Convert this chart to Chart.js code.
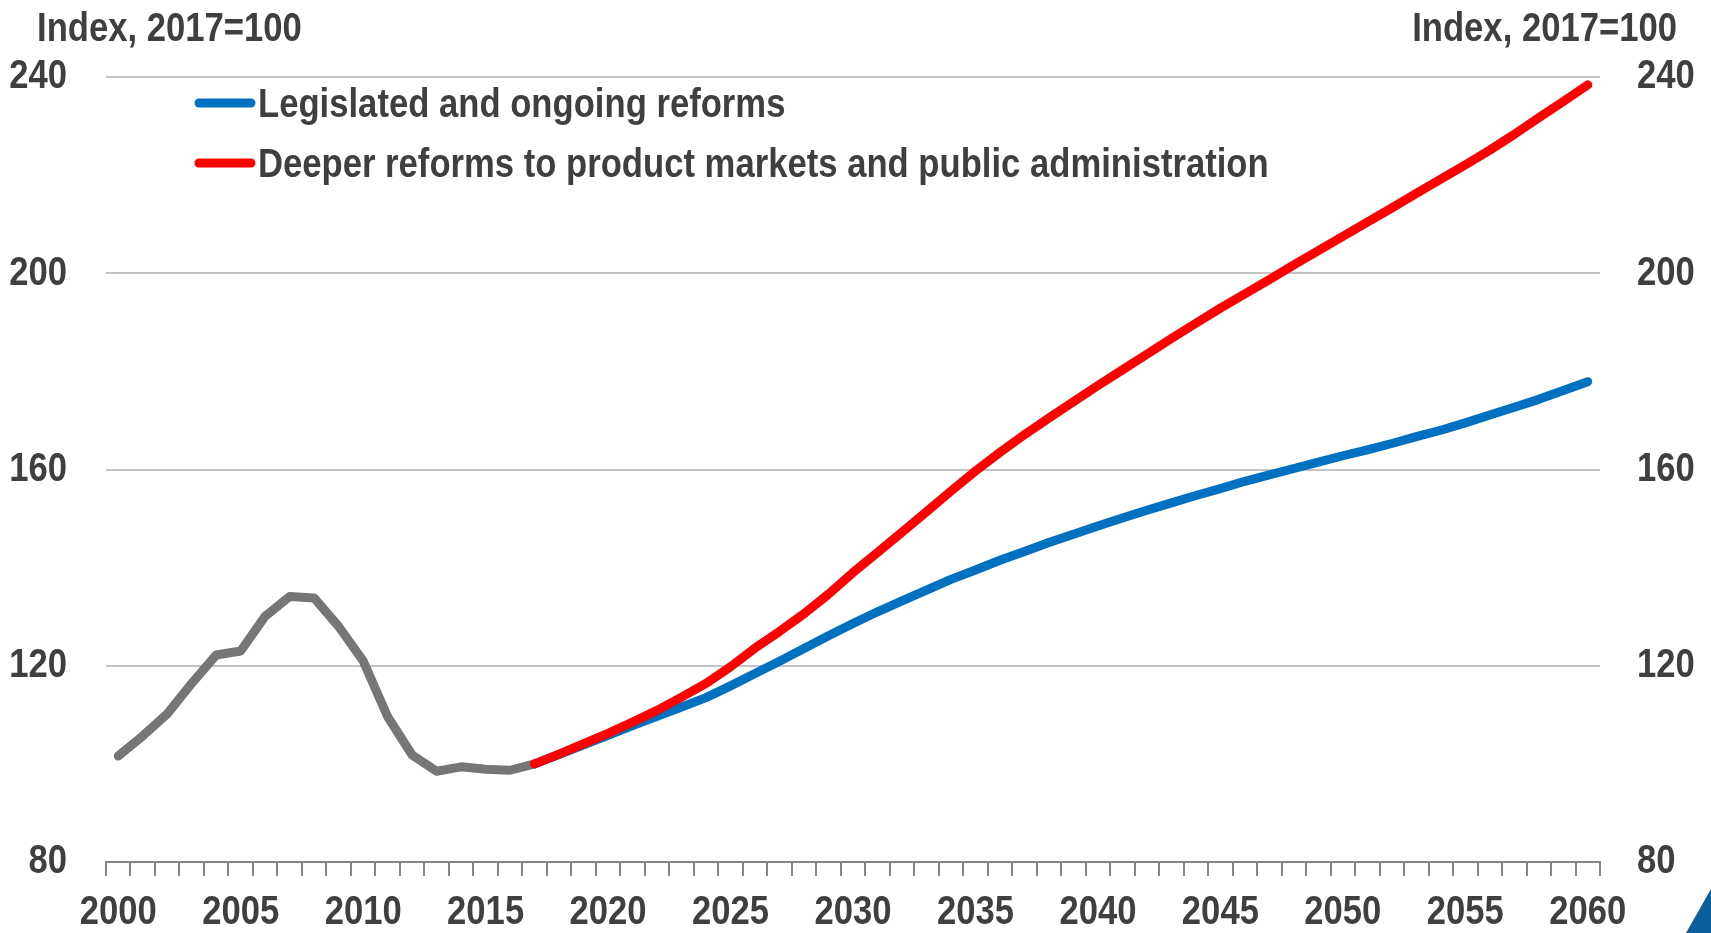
<!DOCTYPE html>
<html>
<head>
<meta charset="utf-8">
<script src="https://cdn.jsdelivr.net/npm/chart.js@4/dist/chart.umd.min.js"></script>
<style>
  body { margin: 0; background: #fff; }
  #wrap { width: 1711px; height: 933px; }
</style>
</head>
<body>
<div id="wrap"><canvas id="growthChart" width="1711" height="933"></canvas></div>
<script>
const years = [
    2000, 2001, 2002, 2003, 2004, 2005, 2006, 2007, 2008, 2009,
    2010, 2011, 2012, 2013, 2014, 2015, 2016, 2017, 2018, 2019,
    2020, 2021, 2022, 2023, 2024, 2025, 2026, 2027, 2028, 2029,
    2030, 2031, 2032, 2033, 2034, 2035, 2036, 2037, 2038, 2039,
    2040, 2041, 2042, 2043, 2044, 2045, 2046, 2047, 2048, 2049,
    2050, 2051, 2052, 2053, 2054, 2055, 2056, 2057, 2058, 2059, 2060
];

// 2000-2017, outturn
const history = [
    101.6, 105.7, 110.2, 116.4, 122.2, 123.0, 130.1, 134.1, 133.8, 128.0,
    121.0, 109.6, 101.8, 98.5, 99.4, 98.9, 98.7, 100.0
];

// 2017-2060 scenarios
const legislated = [
    100.0, 101.9, 103.9, 105.8, 107.8, 109.7, 111.6, 113.5, 115.9, 118.4,
    120.9, 123.5, 126.1, 128.6, 131.0, 133.2, 135.4, 137.6, 139.5, 141.5,
    143.3, 145.1, 146.8, 148.5, 150.1, 151.7, 153.2, 154.7, 156.1, 157.6,
    158.9, 160.2, 161.5, 162.8, 164.0, 165.3, 166.7, 168.0, 169.5, 171.1,
    172.7, 174.3, 176.1, 177.9
];
const deeper = [
    100.0, 102.0, 104.1, 106.2, 108.5, 110.9, 113.6, 116.4, 119.8, 123.6,
    127.0, 130.6, 134.6, 139.0, 143.1, 147.2, 151.4, 155.6, 159.7, 163.5,
    167.1, 170.5, 173.8, 177.1, 180.3, 183.5, 186.7, 189.8, 192.9, 195.8,
    198.7, 201.7, 204.6, 207.5, 210.4, 213.3, 216.3, 219.2, 222.1, 225.1,
    228.3, 231.7, 235.0, 238.4
];

const seriesNames = [
    'Legislated and ongoing reforms',
    'Deeper reforms to product markets and public administration'
];
const axisTitle = 'Index, 2017=100';
const yTicks = [80, 120, 160, 200, 240];

const FONT = "'Liberation Sans', Arial, sans-serif";
const TEXT = '#3f3f3f';
const BLUE = '#0070c0';
const RED = '#ff0000';
const GREY = '#767676';

// no narrow face installed, so squeeze the regular bold one
const SQUEEZE = 0.845;

const firstProj = years.indexOf(2017);
const pad = (arr, before) => Array(before).fill(null).concat(arr);

const canvas = document.getElementById('growthChart');
const ctx = canvas.getContext('2d');
const plainFillText = ctx.fillText;
ctx.fillText = function (text, x, y, maxWidth) {
    this.save();
    this.translate(x, y);
    this.scale(SQUEEZE, 1);
    if (maxWidth === undefined) plainFillText.call(this, text, 0, 0);
    else plainFillText.call(this, text, 0, 0, maxWidth / SQUEEZE);
    this.restore();
};

Chart.register({
    id: 'decorations',
    afterDraw(chart) {
        const { ctx } = chart;
        ctx.save();
        ctx.fillStyle = TEXT;
        ctx.font = `bold 41px ${FONT}`;
        ctx.textBaseline = 'alphabetic';

        // axis titles over both value axes
        ctx.textAlign = 'left';
        ctx.fillText(axisTitle, 37, 41);
        ctx.textAlign = 'right';
        ctx.fillText(axisTitle, 1677, 41);

        // legend inside the plot, top left
        const colors = [BLUE, RED];
        const rows = [103, 163];
        ctx.textAlign = 'left';
        ctx.lineCap = 'round';
        ctx.lineWidth = 9;
        seriesNames.forEach((name, i) => {
            ctx.strokeStyle = colors[i];
            ctx.beginPath();
            ctx.moveTo(199, rows[i]);
            ctx.lineTo(251, rows[i]);
            ctx.stroke();
            ctx.fillText(name, 258, rows[i] + 13.5);
        });

        // corner mark
        ctx.fillStyle = '#0b5e9c';
        ctx.beginPath();
        ctx.moveTo(1686, 933);
        ctx.lineTo(1711, 889);
        ctx.lineTo(1711, 933);
        ctx.closePath();
        ctx.fill();
        ctx.restore();
    }
});

const lineStyle = {
    borderWidth: 9,
    pointRadius: 0,
    fill: false,
    tension: 0,
    borderCapStyle: 'round',
    borderJoinStyle: 'round',
    spanGaps: false
};

const tickFont = { family: FONT, size: 41, weight: 'bold' };

new Chart(ctx, {
    type: 'line',
    data: {
        labels: years,
        datasets: [
            { ...lineStyle, label: 'history', data: history, borderColor: GREY, order: 3 },
            { ...lineStyle, label: seriesNames[0], data: pad(legislated, firstProj), borderColor: BLUE, order: 2 },
            { ...lineStyle, label: seriesNames[1], data: pad(deeper, firstProj), borderColor: RED, order: 1 }
        ]
    },
    options: {
        responsive: false,
        animation: false,
        layout: { padding: { top: 77, left: 0, right: 0, bottom: 0 } },
        plugins: {
            legend: { display: false },
            tooltip: { enabled: false }
        },
        scales: {
            x: {
                type: 'category',
                offset: true,
                grid: {
                    offset: true,
                    drawOnChartArea: false,
                    drawTicks: true,
                    tickLength: 14,
                    color: '#858585',
                    lineWidth: 2
                },
                border: { display: true, color: '#858585', width: 2 },
                ticks: {
                    autoSkip: false,
                    maxRotation: 0,
                    padding: 12,
                    color: TEXT,
                    font: tickFont,
                    callback: (v, i) => (years[i] % 5 === 0 ? String(years[i]) : '')
                },
                afterFit: (s) => { s.height = 71; }
            },
            y: {
                position: 'left',
                min: 80,
                max: 240,
                afterBuildTicks: (s) => { s.ticks = yTicks.map(v => ({ value: v })); },
                grid: { color: '#c4c4c4', lineWidth: 2, drawTicks: false },
                border: { display: false },
                ticks: { padding: 39, color: TEXT, font: tickFont },
                afterFit: (s) => { s.width = 106; }
            },
            y2: {
                position: 'right',
                min: 80,
                max: 240,
                afterBuildTicks: (s) => { s.ticks = yTicks.map(v => ({ value: v })); },
                grid: { display: false, drawTicks: false },
                border: { display: false },
                ticks: { padding: 37, color: TEXT, font: tickFont },
                afterFit: (s) => { s.width = 111; }
            }
        }
    }
});
</script>
</body>
</html>
